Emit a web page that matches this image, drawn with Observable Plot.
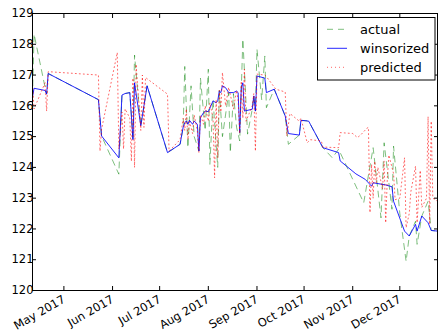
<!DOCTYPE html>
<html><head><meta charset="utf-8">
<script src="https://cdn.jsdelivr.net/npm/d3@7"></script>
<script src="https://cdn.jsdelivr.net/npm/@observablehq/plot@0.6"></script>
<style>body{margin:0;background:#fff;} svg{display:block;}</style>
</head><body><div id="chart"></div>
<script>
const seriesNames = ["actual", "winsorized", "predicted"];
const yTicks = [120,121,122,123,124,125,126,127,128,129];
const xTickDates = ["2017-05-01","2017-06-01","2017-07-01","2017-08-01","2017-09-01","2017-10-01","2017-11-01","2017-12-01"];
const xTickLabels = ["May 2017","Jun 2017","Jul 2017","Aug 2017","Sep 2017","Oct 2017","Nov 2017","Dec 2017"];

const winsDates = ["2017-04-11","2017-04-12","2017-04-19","2017-04-20","2017-04-21","2017-05-23","2017-05-25","2017-06-05","2017-06-07","2017-06-09","2017-06-12","2017-06-14","2017-06-15","2017-06-19","2017-06-23","2017-07-06","2017-07-14","2017-07-16","2017-07-17","2017-07-18","2017-07-19","2017-07-20","2017-07-22","2017-07-23","2017-07-25","2017-07-26","2017-07-27","2017-07-29","2017-07-30","2017-08-01","2017-08-02","2017-08-04","2017-08-06","2017-08-07","2017-08-08","2017-08-09","2017-08-10","2017-08-12","2017-08-14","2017-08-17","2017-08-19","2017-08-20","2017-08-21","2017-08-22","2017-08-23","2017-08-24","2017-08-29","2017-08-30","2017-08-31","2017-09-01","2017-09-06","2017-09-07","2017-09-12","2017-09-19","2017-09-21","2017-09-28","2017-09-29","2017-10-03","2017-10-04","2017-10-05","2017-10-13","2017-10-23","2017-10-24","2017-11-03","2017-11-09","2017-11-13","2017-11-14","2017-11-22","2017-11-26","2017-11-27","2017-12-04","2017-12-07","2017-12-11","2017-12-12","2017-12-15","2017-12-19","2017-12-21","2017-12-25"];
const winsValues = [126.29,126.57,126.50,126.38,127.05,126.20,125.02,124.31,126.35,126.40,126.43,124.90,126.75,125.35,126.65,124.48,124.75,125.31,125.45,125.51,125.40,125.53,125.40,125.51,125.40,124.53,125.62,125.78,125.83,125.81,125.92,126.16,126.10,126.16,126.48,126.43,126.65,126.59,126.43,126.43,126.48,126.43,125.13,126.59,126.75,125.83,125.89,126.32,125.83,126.97,126.90,126.43,126.54,125.67,125.10,125.05,125.53,125.51,125.50,125.40,124.64,124.48,124.21,123.79,123.61,123.39,123.50,123.43,123.37,122.90,121.93,121.77,122.15,121.93,122.42,122.20,121.95,121.93];

const actualDates = ["2017-04-11","2017-04-12","2017-04-19","2017-04-20","2017-04-21","2017-05-23","2017-05-25","2017-06-05","2017-06-07","2017-06-09","2017-06-12","2017-06-14","2017-06-15","2017-06-19","2017-06-23","2017-07-06","2017-07-14","2017-07-16","2017-07-17","2017-07-19","2017-07-21","2017-07-23","2017-07-26","2017-07-27","2017-07-30","2017-08-01","2017-08-02","2017-08-04","2017-08-07","2017-08-08","2017-08-10","2017-08-14","2017-08-15","2017-08-17","2017-08-19","2017-08-21","2017-08-23","2017-08-26","2017-08-29","2017-08-30","2017-08-31","2017-09-01","2017-09-04","2017-09-06","2017-09-07","2017-09-12","2017-09-19","2017-09-21","2017-09-28","2017-09-29","2017-10-03","2017-10-05","2017-10-13","2017-10-19","2017-10-23","2017-11-08","2017-11-14","2017-11-19","2017-11-21","2017-11-26","2017-11-27","2017-12-01","2017-12-05","2017-12-07","2017-12-11","2017-12-12","2017-12-15","2017-12-19","2017-12-21","2017-12-25"];
const actualValues = [126.29,128.33,126.60,126.38,127.05,126.20,125.02,123.78,126.35,126.40,126.43,124.90,127.65,125.35,126.65,124.48,124.75,125.31,127.28,124.64,126.65,125.00,124.53,126.90,125.20,127.19,124.10,126.20,124.00,126.50,125.00,126.43,124.48,126.40,125.30,124.86,128.17,125.08,125.89,126.32,125.83,127.84,126.20,127.62,125.94,126.54,125.67,124.75,125.05,125.53,125.51,125.40,124.64,124.31,124.59,122.85,124.64,122.36,124.80,122.64,124.69,122.50,120.95,121.77,122.25,121.50,122.42,122.90,121.95,121.93];

const predDates = ["2017-04-11","2017-04-12","2017-04-19","2017-04-20","2017-04-21","2017-05-23","2017-05-24","2017-05-25","2017-06-04","2017-06-05","2017-06-07","2017-06-08","2017-06-09","2017-06-12","2017-06-13","2017-06-14","2017-06-15","2017-06-16","2017-06-19","2017-06-20","2017-06-21","2017-06-22","2017-07-06","2017-07-07","2017-07-14","2017-07-16","2017-07-17","2017-07-18","2017-07-19","2017-07-20","2017-07-22","2017-07-23","2017-07-25","2017-07-26","2017-07-27","2017-07-29","2017-07-30","2017-08-01","2017-08-02","2017-08-04","2017-08-05","2017-08-06","2017-08-07","2017-08-08","2017-08-09","2017-08-10","2017-08-12","2017-08-14","2017-08-17","2017-08-19","2017-08-20","2017-08-21","2017-08-22","2017-08-23","2017-08-24","2017-08-25","2017-08-29","2017-08-30","2017-08-31","2017-09-01","2017-09-06","2017-09-07","2017-09-13","2017-09-19","2017-09-20","2017-09-22","2017-09-28","2017-09-29","2017-10-03","2017-10-05","2017-10-12","2017-10-13","2017-10-23","2017-10-24","2017-11-01","2017-11-04","2017-11-06","2017-11-10","2017-11-11","2017-11-12","2017-11-13","2017-11-14","2017-11-15","2017-11-16","2017-11-17","2017-11-20","2017-11-21","2017-11-22","2017-11-23","2017-11-24","2017-11-27","2017-11-28","2017-12-01","2017-12-04","2017-12-05","2017-12-07","2017-12-08","2017-12-11","2017-12-12","2017-12-14","2017-12-15","2017-12-18","2017-12-19","2017-12-20","2017-12-21","2017-12-22","2017-12-25"];
const predValues = [126.70,125.90,126.75,125.83,127.11,127.00,124.53,125.24,127.73,124.60,125.80,124.60,125.90,125.60,124.20,126.90,124.00,127.35,125.20,127.00,125.30,126.92,126.38,124.53,124.90,125.60,125.20,125.90,124.90,125.50,125.10,125.70,125.20,124.48,125.70,125.40,126.00,125.50,126.10,125.60,123.66,126.20,124.31,126.50,125.80,127.08,126.00,126.60,125.90,126.50,126.20,125.10,126.80,125.60,127.19,125.50,126.00,126.40,124.53,127.03,127.00,126.95,126.54,126.45,125.02,125.75,125.50,125.60,124.80,124.90,124.86,124.66,124.64,125.13,125.10,124.97,125.05,125.27,125.30,122.53,124.10,123.00,124.20,123.50,124.00,123.30,124.20,122.20,123.60,124.40,123.80,122.95,123.00,124.31,122.04,122.50,123.20,124.04,122.20,123.90,122.70,123.00,125.65,122.15,125.50,123.00,122.90];

const toRows = (dates, values) => dates.map((d, i) => ({date: new Date(d), value: values[i]}));
const actual = toRows(actualDates, actualValues);
const wins = toRows(winsDates, winsValues);
const pred = toRows(predDates, predValues);

const styles = {
  actual: {stroke: "#008000", strokeOpacity: 0.5, strokeDasharray: "6,5"},
  winsorized: {stroke: "#0000ff", strokeOpacity: 0.85, strokeDasharray: null},
  predicted: {stroke: "#ff0000", strokeOpacity: 0.6, strokeDasharray: "1,3"}
};

const tickDateObjs = xTickDates.map(d => new Date(d));
const tickRows = tickDateObjs.map((d, i) => ({date: d, label: xTickLabels[i]}));
const xDomain = [new Date(winsDates[0]), new Date(winsDates[winsDates.length - 1])];

const chart = Plot.plot({
  width: 438, height: 335,
  marginLeft: 32, marginRight: 1, marginTop: 13, marginBottom: 45,
  style: {fontFamily: "DejaVu Sans", fontSize: "11.5px", color: "#000", background: "#fff"},
  x: {type: "utc", domain: xDomain, label: null},
  y: {domain: [120, 129], label: null},
  marks: [
    Plot.line(actual, {x: "date", y: "value", strokeWidth: 1, ...styles.actual}),
    Plot.line(wins, {x: "date", y: "value", strokeWidth: 1, ...styles.winsorized}),
    Plot.line(pred, {x: "date", y: "value", strokeWidth: 1, ...styles.predicted}),
    Plot.frame({stroke: "#000", strokeWidth: 1}),
    Plot.axisY(yTicks, {anchor: "left", tickSize: -4, tickPadding: 3, label: null, tickFormat: d => String(d), stroke: "#000"}),
    Plot.axisY(yTicks, {anchor: "right", tickSize: -4, label: null, tickFormat: () => "", stroke: "#000"}),
    Plot.axisX(tickDateObjs, {anchor: "bottom", tickSize: -4, label: null, tickFormat: () => "", stroke: "#000"}),
    Plot.axisX(tickDateObjs, {anchor: "top", tickSize: -4, label: null, tickFormat: () => "", stroke: "#000"}),
    Plot.text(tickRows, {x: "date", frameAnchor: "bottom", text: "label", rotate: -30, textAnchor: "end", lineAnchor: "top", dx: -2, dy: 4, fill: "#000"})
  ]
});

// legend (inside plot, upper right)
const svg = d3.select(chart);
const lg = svg.append("g").attr("font-family", "DejaVu Sans").attr("font-size", 13).attr("text-anchor", "start");
lg.append("rect").attr("x", 317.5).attr("y", 17.5).attr("width", 117.5).attr("height", 62.5)
  .attr("fill", "#fff").attr("stroke", "#000").attr("stroke-width", 1);
seriesNames.forEach((name, i) => {
  const y = 29.3 + i * 19;
  const s = styles[name];
  lg.append("line").attr("x1", 327).attr("x2", 347).attr("y1", y).attr("y2", y)
    .attr("stroke", s.stroke).attr("stroke-opacity", s.strokeOpacity)
    .attr("stroke-dasharray", s.strokeDasharray).attr("stroke-width", 1);
  lg.append("text").attr("x", 360).attr("y", y).attr("dy", "0.35em").attr("fill", "#000").attr("text-anchor", "start").text(name);
});

document.getElementById("chart").appendChild(chart);
</script>
</body></html>
